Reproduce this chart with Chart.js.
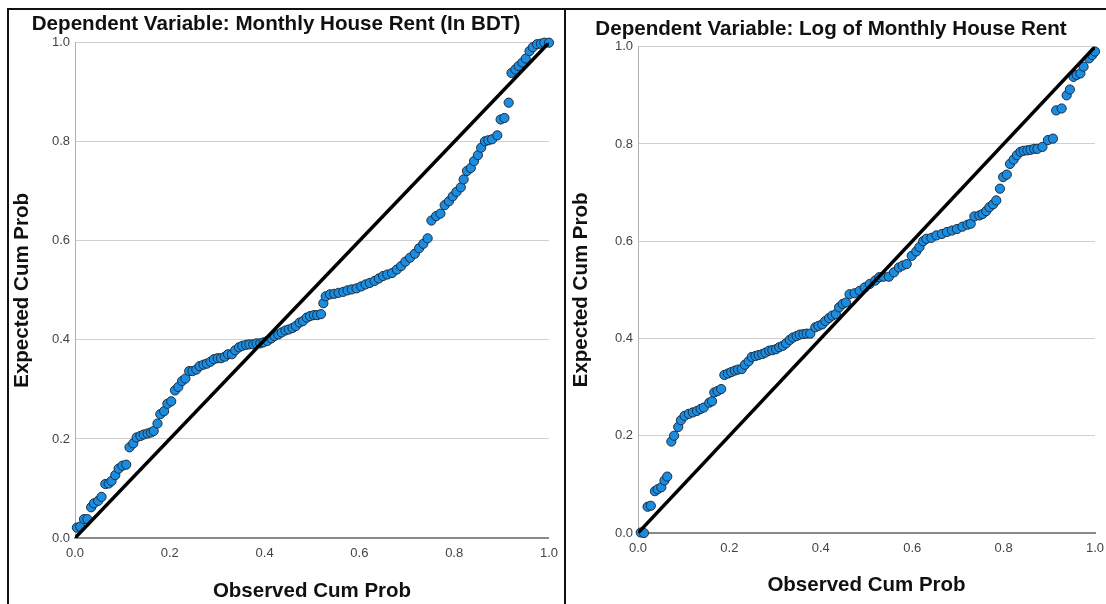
<!DOCTYPE html>
<html>
<head>
<title>Normal P-P Plots of Regression Standardized Residual</title>
<script src="https://cdn.jsdelivr.net/npm/chart.js@4.4.1/dist/chart.umd.min.js"></script>
<style>
    body { margin: 0; background: #fff; width: 1106px; height: 604px; overflow: hidden; position: relative; }
    canvas { position: absolute; top: 0; }
    .frame { position: absolute; background: #111; z-index: 2; }
</style>
</head>
<body>
<canvas id="ppRent" width="566" height="604" style="left:0px"></canvas>
<canvas id="ppLogRent" width="560" height="604" style="left:566px"></canvas>
<div class="frame" style="left:7px; top:8px; width:1099px; height:2px"></div>
<div class="frame" style="left:7px; top:8px; width:2px; height:596px"></div>
<div class="frame" style="left:564px; top:8px; width:2px; height:596px"></div>

<script>
// ---------------- Monthly House Rent (In BDT) ----------------
const rentObserved = [
    0.004, 0.011, 0.019, 0.026, 0.034, 0.040, 0.049, 0.056, 0.064, 0.071,
    0.077, 0.085, 0.092, 0.100, 0.108, 0.115, 0.123, 0.130, 0.138, 0.145,
    0.153, 0.160, 0.166, 0.174, 0.180, 0.188, 0.195, 0.203, 0.211, 0.218,
    0.226, 0.233, 0.241, 0.248, 0.256, 0.263, 0.271, 0.278, 0.286, 0.293,
    0.301, 0.308, 0.316, 0.323, 0.331, 0.338, 0.346, 0.353, 0.361, 0.368,
    0.376, 0.383, 0.391, 0.398, 0.406, 0.414, 0.421, 0.429, 0.436, 0.444,
    0.451, 0.459, 0.466, 0.474, 0.481, 0.489, 0.496, 0.504, 0.511, 0.519,
    0.524, 0.529, 0.538, 0.547, 0.556, 0.566, 0.575, 0.584, 0.594, 0.604,
    0.613, 0.622, 0.632, 0.641, 0.650, 0.659, 0.669, 0.679, 0.688, 0.697,
    0.707, 0.717, 0.726, 0.735, 0.744, 0.752, 0.762, 0.771, 0.780, 0.789,
    0.797, 0.805, 0.814, 0.820, 0.827, 0.835, 0.842, 0.850, 0.857, 0.865,
    0.872, 0.880, 0.891, 0.898, 0.906, 0.915, 0.921, 0.929, 0.936, 0.944,
    0.951, 0.959, 0.966, 0.975, 0.983, 0.990, 1.000
];
const rentExpected = [
    0.021, 0.023, 0.038, 0.038, 0.062, 0.070, 0.075, 0.083, 0.109, 0.110,
    0.115, 0.127, 0.140, 0.146, 0.148, 0.183, 0.191, 0.203, 0.206, 0.209,
    0.211, 0.213, 0.216, 0.231, 0.250, 0.256, 0.271, 0.276, 0.298, 0.305,
    0.317, 0.322, 0.337, 0.337, 0.340, 0.347, 0.350, 0.352, 0.356, 0.361,
    0.363, 0.363, 0.366, 0.371, 0.371, 0.379, 0.385, 0.388, 0.390, 0.391,
    0.391, 0.393, 0.393, 0.395, 0.398, 0.403, 0.408, 0.411, 0.415, 0.419,
    0.421, 0.424, 0.428, 0.435, 0.438, 0.445, 0.448, 0.450, 0.450, 0.452,
    0.474, 0.488, 0.492, 0.493, 0.495, 0.497, 0.500, 0.502, 0.504, 0.508,
    0.512, 0.515, 0.519, 0.524, 0.529, 0.532, 0.535, 0.542, 0.549, 0.558,
    0.566, 0.574, 0.585, 0.594, 0.605, 0.641, 0.650, 0.655, 0.672, 0.680,
    0.690, 0.699, 0.708, 0.724, 0.741, 0.747, 0.761, 0.773, 0.788, 0.801,
    0.803, 0.805, 0.813, 0.845, 0.848, 0.879, 0.939, 0.946, 0.953, 0.960,
    0.968, 0.983, 0.991, 0.997, 0.998, 1.000, 1.000
];

// ---------------- Log of Monthly House Rent ----------------
const logRentObserved = [
    0.006, 0.013, 0.021, 0.028, 0.037, 0.043, 0.051, 0.058, 0.064, 0.073,
    0.079, 0.088, 0.094, 0.102, 0.111, 0.120, 0.129, 0.137, 0.144, 0.156,
    0.162, 0.167, 0.174, 0.182, 0.189, 0.197, 0.204, 0.212, 0.219, 0.227,
    0.234, 0.242, 0.249, 0.257, 0.264, 0.272, 0.279, 0.287, 0.294, 0.302,
    0.309, 0.317, 0.324, 0.332, 0.339, 0.347, 0.354, 0.362, 0.369, 0.377,
    0.388, 0.395, 0.403, 0.410, 0.418, 0.425, 0.433, 0.440, 0.448, 0.455,
    0.463, 0.474, 0.485, 0.496, 0.507, 0.519, 0.528, 0.537, 0.549, 0.560,
    0.571, 0.579, 0.588, 0.599, 0.609, 0.616, 0.624, 0.631, 0.642, 0.653,
    0.665, 0.676, 0.687, 0.698, 0.710, 0.721, 0.728, 0.736, 0.747, 0.754,
    0.762, 0.769, 0.777, 0.784, 0.792, 0.799, 0.807, 0.814, 0.822, 0.829,
    0.837, 0.844, 0.852, 0.859, 0.867, 0.874, 0.885, 0.897, 0.908, 0.915,
    0.927, 0.938, 0.945, 0.953, 0.960, 0.968, 0.975, 0.987, 0.994, 1.000
];
const logRentExpected = [
    0.001, 0.000, 0.054, 0.056, 0.086, 0.090, 0.094, 0.108, 0.116, 0.188,
    0.200, 0.218, 0.232, 0.241, 0.245, 0.248, 0.251, 0.255, 0.258, 0.268,
    0.271, 0.289, 0.292, 0.296, 0.325, 0.328, 0.331, 0.334, 0.336, 0.337,
    0.346, 0.353, 0.362, 0.364, 0.366, 0.368, 0.371, 0.375, 0.376, 0.378,
    0.382, 0.385, 0.390, 0.397, 0.402, 0.405, 0.408, 0.409, 0.410, 0.410,
    0.423, 0.426, 0.429, 0.436, 0.442, 0.447, 0.450, 0.464, 0.471, 0.474,
    0.491, 0.493, 0.498, 0.505, 0.512, 0.519, 0.526, 0.527, 0.527, 0.536,
    0.546, 0.550, 0.553, 0.570, 0.579, 0.588, 0.600, 0.605, 0.607, 0.612,
    0.615, 0.619, 0.622, 0.625, 0.630, 0.634, 0.636, 0.651, 0.653, 0.656,
    0.662, 0.670, 0.676, 0.684, 0.708, 0.732, 0.737, 0.759, 0.768, 0.777,
    0.784, 0.786, 0.787, 0.788, 0.790, 0.790, 0.794, 0.808, 0.811, 0.869,
    0.873, 0.900, 0.912, 0.938, 0.942, 0.945, 0.959, 0.976, 0.983, 0.990
];

// reference diagonal (expected == observed)
const diagonal = [0, 1];

const FONT = 'Arial, "Liberation Sans", sans-serif';

function makePP(id, titleText, observed, expected, box) {
    const points = observed.map((x, i) => ({ x: x, y: expected[i] }));
    const line = diagonal.map(v => ({ x: v, y: v }));

    return new Chart(document.getElementById(id), {
        type: 'scatter',
        data: {
            datasets: [{
                type: 'line',
                data: line,
                borderColor: '#000',
                borderWidth: 3.5,
                pointRadius: 0,
                fill: false
            }, {
                data: points,
                pointRadius: 4.6,
                pointBackgroundColor: '#1a8de0',
                pointBorderColor: '#1b2c40',
                pointBorderWidth: 1,
                clip: false
            }]
        },
        options: {
            responsive: false,
            animation: false,
            devicePixelRatio: 1,
            layout: { padding: { left: box.padL, right: box.padR, top: 0, bottom: 0 } },
            plugins: {
                legend: { display: false },
                tooltip: { enabled: false },
                title: {
                    display: true,
                    text: titleText,
                    color: '#111',
                    font: { family: FONT, size: 20.6, weight: 'bold', lineHeight: 1.2 },
                    padding: { top: box.titleTop, bottom: box.titleBottom }
                }
            },
            scales: {
                x: {
                    type: 'linear',
                    min: 0, max: 1,
                    afterFit: s => { s.height = box.xHeight; },
                    grid: { display: false, drawTicks: false },
                    border: { color: '#8a8a8a', width: 2 },
                    ticks: {
                        stepSize: 0.2,
                        padding: 8,
                        color: '#444',
                        font: { family: FONT, size: 13 },
                        callback: v => v.toFixed(1)
                    },
                    title: {
                        display: true,
                        text: 'Observed Cum Prob',
                        color: '#111',
                        font: { family: FONT, size: 20.5, weight: 'bold', lineHeight: 1.2 },
                        padding: { top: 0, bottom: box.xTitlePad }
                    }
                },
                y: {
                    type: 'linear',
                    min: 0, max: 1,
                    afterFit: s => { s.width = box.yWidth; },
                    grid: { color: '#cfcfcf', lineWidth: 1, drawTicks: false },
                    border: { color: '#b0b0b0', width: 1 },
                    ticks: {
                        stepSize: 0.2,
                        padding: 5,
                        color: '#444',
                        font: { family: FONT, size: 13 },
                        callback: v => v.toFixed(1)
                    },
                    title: {
                        display: true,
                        text: 'Expected Cum Prob',
                        color: '#111',
                        font: { family: FONT, size: 20.5, weight: 'bold', lineHeight: 1.2 },
                        padding: { top: box.yTitlePad, bottom: 0 }
                    }
                }
            }
        }
    });
}

makePP('ppRent', 'Dependent Variable: Monthly House Rent (In BDT)', rentObserved, rentExpected,
    { padL: 3, padR: 17, yWidth: 72, xHeight: 66, titleTop: 12, titleBottom: 6, yTitlePad: 7, xTitlePad: 0 });

makePP('ppLogRent', 'Dependent Variable: Log of Monthly House Rent', logRentObserved, logRentExpected,
    { padL: 1, padR: 31, yWidth: 71, xHeight: 71, titleTop: 17, titleBottom: 5, yTitlePad: 2, xTitlePad: 6 });
</script>
</body>
</html>
